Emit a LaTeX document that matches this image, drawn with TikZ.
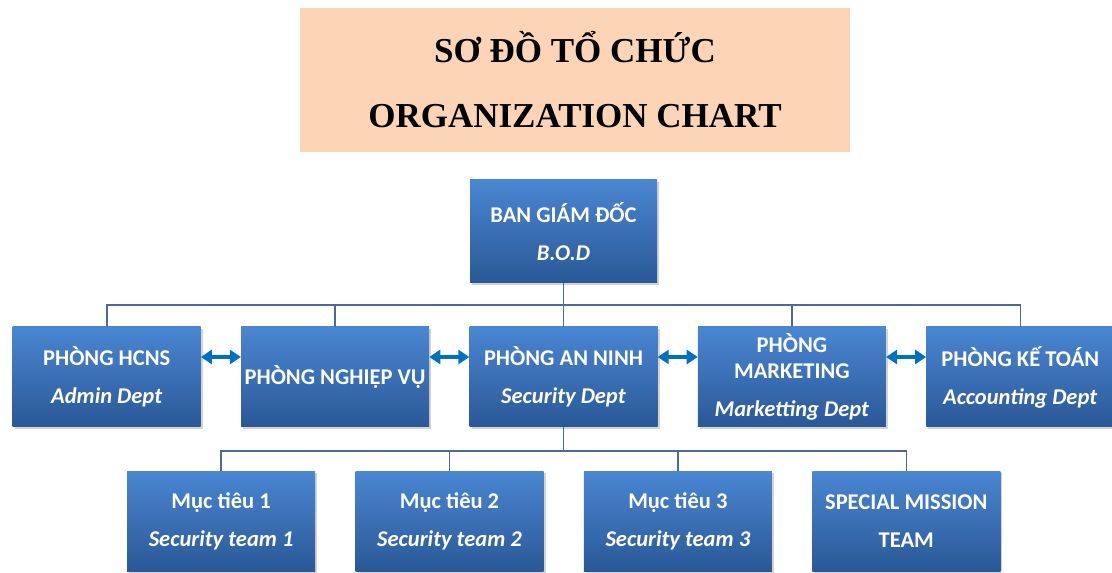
\documentclass[tikz,border=0pt]{standalone}
\usepackage{fontspec}
\setmainfont{Liberation Serif}
\newfontfamily\boxfont{Carlito}
\usetikzlibrary{positioning, arrows.meta, shadows}
\definecolor{boxTop}{HTML}{4A86D2}
\definecolor{boxBottom}{HTML}{2A5896}
\definecolor{linkBlue}{HTML}{4A6A9A}
\definecolor{arrowBlue}{HTML}{0070C0}
\definecolor{titlePeach}{HTML}{FBD5B5}
\tikzset{
  x=1pt, y=1pt,
  node distance=0pt and 40pt,
  titlebox/.style={fill=titlePeach, minimum width=550pt, minimum height=144pt, align=center, font=\fontsize{35}{65}\selectfont\bfseries},
  dept/.style={top color=boxTop, bottom color=boxBottom, minimum width=188pt, minimum height=100pt, inner sep=1pt, align=center, text=white, font=\boxfont\bfseries\fontsize{22.5}{38}\selectfont, drop shadow={shadow xshift=2pt, shadow yshift=-2pt, opacity=0.35, fill=gray}},
  link/.style={draw=linkBlue, line width=1.6pt},
  biarrow/.style={draw=arrowBlue, line width=3.5pt, {Triangle[length=11pt,width=14pt]}-{Triangle[length=11pt,width=14pt]}}
}

\begin{document}
\begin{tikzpicture}
  \useasboundingbox (0,0) rectangle (1112,573);
  \node[titlebox] (title) at (575,493) {SƠ ĐỒ TỔ CHỨC\\ORGANIZATION CHART};

  \node[dept, minimum width=187pt, minimum height=103pt] (bod) at (563.5,341.5) {BAN GIÁM ĐỐC\\\textit{B.O.D}};
  \node[dept] (anninh) at (563.5,196) {PHÒNG AN NINH\\\textit{Security Dept}};
  \node[dept, left=of anninh] (nghiepvu) {PHÒNG NGHIỆP VỤ};
  \node[dept, left=of nghiepvu] (hcns) {PHÒNG HCNS\\\textit{Admin Dept}};
  \node[dept, right=of anninh, font=\boxfont\bfseries\fontsize{22.5}{26}\selectfont] (marketing) {PHÒNG\\MARKETING\\[12pt]\textit{Marketting Dept}};
  \node[dept, right=of marketing] (ketoan) {PHÒNG KẾ TOÁN\\\textit{Accounting Dept}};

  \node[dept] (muctieu2) at (449.5,51.5) {Mục tiêu 2\\\textit{Security team 2}};
  \node[dept, left=of muctieu2] (muctieu1) {Mục tiêu 1\\\textit{Security team 1}};
  \node[dept, right=of muctieu2] (muctieu3) {Mục tiêu 3\\\textit{Security team 3}};
  \node[dept, right=of muctieu3] (special) {SPECIAL MISSION\\TEAM};

  \coordinate (bar1) at (563.5,268);
  \coordinate (bar2) at (563.5,122);

  \draw[link] (bod.south) -- (anninh.north);
  \draw[link] (hcns.north) |- (bar1) -| (ketoan.north);
  \draw[link] (nghiepvu.north) -- (nghiepvu.north |- bar1);
  \draw[link] (marketing.north) -- (marketing.north |- bar1);

  \draw[link] (anninh.south) -- (bar2);
  \draw[link] (muctieu1.north) |- (bar2) -| (special.north);
  \draw[link] (muctieu2.north) -- (muctieu2.north |- bar2);
  \draw[link] (muctieu3.north) -- (muctieu3.north |- bar2);

  \draw[biarrow] ([yshift=20pt]hcns.east) -- ([yshift=20pt]nghiepvu.west);
  \draw[biarrow] ([yshift=20pt]nghiepvu.east) -- ([yshift=20pt]anninh.west);
  \draw[biarrow] ([yshift=20pt]anninh.east) -- ([yshift=20pt]marketing.west);
  \draw[biarrow] ([yshift=20pt]marketing.east) -- ([yshift=20pt]ketoan.west);
\end{tikzpicture}
\end{document}
